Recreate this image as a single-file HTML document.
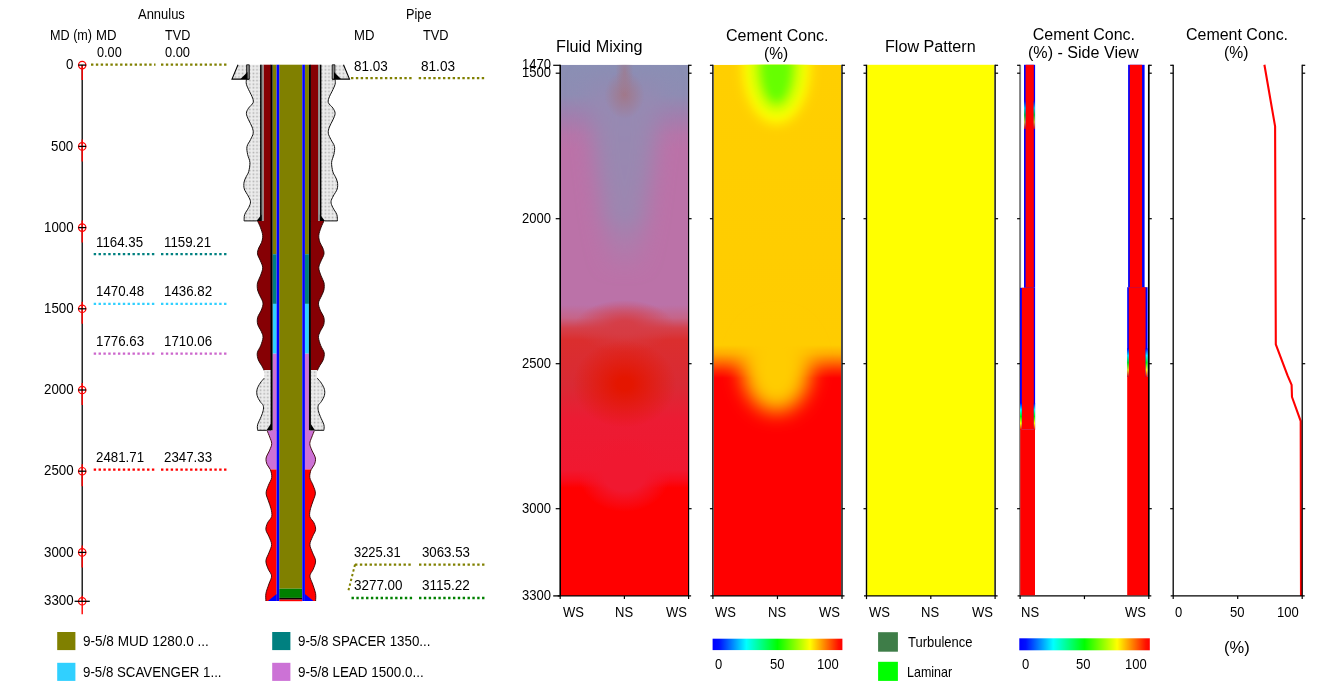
<!DOCTYPE html>
<html><head><meta charset="utf-8"><style>
html,body{margin:0;padding:0;background:#fff;}
body{width:1340px;height:691px;overflow:hidden;position:relative;font-family:"Liberation Sans",sans-serif;}
svg{position:absolute;left:0;top:0;}
#wrap{position:absolute;left:0;top:0;width:1340px;height:691px;filter:blur(0.35px);}
.t{position:absolute;white-space:pre;transform-origin:0 0;color:#000;}
</style></head><body>
<div id="wrap">
<svg width="1340" height="691" viewBox="0 0 1340 691">
<defs><pattern id="stip" x="0" y="0" width="3.6" height="3.6" patternUnits="userSpaceOnUse">
<rect width="3.6" height="3.6" fill="#ececec"/><rect x="0.6" y="0.6" width="1.6" height="1.6" fill="#b0b0b0"/></pattern>
<linearGradient id="t1base" x1="0" y1="64.8" x2="0" y2="595.9" gradientUnits="userSpaceOnUse"><stop offset="0.0000" stop-color="#8a8fb4"/><stop offset="0.0569" stop-color="#8e8cb3"/><stop offset="0.0945" stop-color="#a07fae"/><stop offset="0.1322" stop-color="#b575a9"/><stop offset="0.1604" stop-color="#bb72a8"/><stop offset="0.4523" stop-color="#bb72a8"/><stop offset="0.4767" stop-color="#c66488"/><stop offset="0.4956" stop-color="#d4414c"/><stop offset="0.5182" stop-color="#db2e2e"/><stop offset="0.6029" stop-color="#d92a34"/><stop offset="0.6688" stop-color="#ec1b33"/><stop offset="0.7629" stop-color="#f01830"/><stop offset="0.7818" stop-color="#f80c1c"/><stop offset="0.7968" stop-color="#ff0000"/><stop offset="1.0000" stop-color="#ff0000"/></linearGradient>
<linearGradient id="t1col" x1="0" y1="64.8" x2="0" y2="280" gradientUnits="userSpaceOnUse">
<stop offset="0" stop-color="#8f8ab3" stop-opacity="0"/>
<stop offset="0.15" stop-color="#958ab2" stop-opacity="1"/>
<stop offset="0.7" stop-color="#9c86b0" stop-opacity="1"/>
<stop offset="1" stop-color="#a882ae" stop-opacity="0"/>
</linearGradient>
<linearGradient id="t2base" x1="0" y1="64.8" x2="0" y2="595.9" gradientUnits="userSpaceOnUse"><stop offset="0.0000" stop-color="#ffcf00"/><stop offset="0.5276" stop-color="#ffcc00"/><stop offset="0.5445" stop-color="#ffaa00"/><stop offset="0.5596" stop-color="#ff7000"/><stop offset="0.5747" stop-color="#ff3000"/><stop offset="0.5897" stop-color="#ff0000"/><stop offset="1.0000" stop-color="#ff0000"/></linearGradient>
<linearGradient id="jet" x1="0" y1="0" x2="1" y2="0"><stop offset="0" stop-color="#0000ff"/><stop offset="0.05" stop-color="#0010ff"/><stop offset="0.26" stop-color="#00ffff"/><stop offset="0.5" stop-color="#00ff00"/><stop offset="0.75" stop-color="#ffff00"/><stop offset="0.97" stop-color="#ff1000"/><stop offset="1" stop-color="#ff0000"/></linearGradient>
<linearGradient id="vjet" x1="0" y1="0" x2="0" y2="1"><stop offset="0" stop-color="#0000ff"/><stop offset="0.25" stop-color="#00ffff"/><stop offset="0.5" stop-color="#00ff00"/><stop offset="0.75" stop-color="#ffff00"/><stop offset="1" stop-color="#ff0000"/></linearGradient>
<radialGradient id="r1top" cx="0.5" cy="0.5" r="0.5"><stop offset="0" stop-color="#a27686" stop-opacity="0.9"/><stop offset="0.0" stop-color="#a27686" stop-opacity="0.9"/><stop offset="1" stop-color="#a27686" stop-opacity="0"/></radialGradient><radialGradient id="r1onset" cx="0.5" cy="0.5" r="0.5"><stop offset="0" stop-color="#d63c44" stop-opacity="0.9"/><stop offset="0.2" stop-color="#d63c44" stop-opacity="0.9"/><stop offset="1" stop-color="#d63c44" stop-opacity="0"/></radialGradient><radialGradient id="r1spot" cx="0.5" cy="0.5" r="0.5"><stop offset="0" stop-color="#e41600" stop-opacity="1.0"/><stop offset="0.15" stop-color="#e41600" stop-opacity="1.0"/><stop offset="1" stop-color="#e41600" stop-opacity="0"/></radialGradient><radialGradient id="r1v" cx="0.5" cy="0.5" r="0.5"><stop offset="0" stop-color="#f01830" stop-opacity="1.0"/><stop offset="0.45" stop-color="#f01830" stop-opacity="1.0"/><stop offset="1" stop-color="#f01830" stop-opacity="0"/></radialGradient>
<filter id="b6" x="-50%" y="-50%" width="200%" height="200%"><feGaussianBlur stdDeviation="6"/></filter>
<filter id="b8" x="-50%" y="-50%" width="200%" height="200%"><feGaussianBlur stdDeviation="8"/></filter>
<filter id="b10x" x="-50%" y="-50%" width="200%" height="200%"><feGaussianBlur stdDeviation="11 5"/></filter>
<filter id="b10" x="-50%" y="-50%" width="200%" height="200%"><feGaussianBlur stdDeviation="10"/></filter>
<filter id="b4" x="-50%" y="-50%" width="200%" height="200%"><feGaussianBlur stdDeviation="4"/></filter>
<clipPath id="clip0"><rect x="561.0" y="64.8" width="127.00" height="531.10"/></clipPath>
<clipPath id="clip1"><rect x="713.6" y="64.8" width="127.70" height="531.10"/></clipPath>
<clipPath id="clip2"><rect x="867.2" y="64.8" width="127.20" height="531.10"/></clipPath>
<clipPath id="clip3"><rect x="1021.1" y="64.8" width="126.80" height="531.10"/></clipPath>
<clipPath id="clip4"><rect x="1173.8" y="64.8" width="127.80" height="531.10"/></clipPath>
</defs>
<line x1="82.2" y1="65.1" x2="82.2" y2="601.3" stroke="#000" stroke-width="1.3"/>
<line x1="82.2" y1="65.10" x2="82.2" y2="80.10" stroke="#ff0000" stroke-width="1.4"/>
<circle cx="82.2" cy="65.10" r="3.7" fill="none" stroke="#ff0000" stroke-width="1.2"/>
<line x1="78.3" y1="65.10" x2="86.2" y2="65.10" stroke="#000" stroke-width="1.3"/>
<line x1="82.2" y1="139.40" x2="82.2" y2="161.40" stroke="#ff0000" stroke-width="1.4"/>
<circle cx="82.2" cy="146.40" r="3.7" fill="none" stroke="#ff0000" stroke-width="1.2"/>
<line x1="78.3" y1="146.40" x2="86.2" y2="146.40" stroke="#000" stroke-width="1.3"/>
<line x1="82.2" y1="220.60" x2="82.2" y2="242.60" stroke="#ff0000" stroke-width="1.4"/>
<circle cx="82.2" cy="227.60" r="3.7" fill="none" stroke="#ff0000" stroke-width="1.2"/>
<line x1="78.3" y1="227.60" x2="86.2" y2="227.60" stroke="#000" stroke-width="1.3"/>
<line x1="82.2" y1="301.80" x2="82.2" y2="323.80" stroke="#ff0000" stroke-width="1.4"/>
<circle cx="82.2" cy="308.80" r="3.7" fill="none" stroke="#ff0000" stroke-width="1.2"/>
<line x1="78.3" y1="308.80" x2="86.2" y2="308.80" stroke="#000" stroke-width="1.3"/>
<line x1="82.2" y1="383.00" x2="82.2" y2="405.00" stroke="#ff0000" stroke-width="1.4"/>
<circle cx="82.2" cy="390.00" r="3.7" fill="none" stroke="#ff0000" stroke-width="1.2"/>
<line x1="78.3" y1="390.00" x2="86.2" y2="390.00" stroke="#000" stroke-width="1.3"/>
<line x1="82.2" y1="464.20" x2="82.2" y2="486.20" stroke="#ff0000" stroke-width="1.4"/>
<circle cx="82.2" cy="471.20" r="3.7" fill="none" stroke="#ff0000" stroke-width="1.2"/>
<line x1="78.3" y1="471.20" x2="86.2" y2="471.20" stroke="#000" stroke-width="1.3"/>
<line x1="82.2" y1="545.40" x2="82.2" y2="567.40" stroke="#ff0000" stroke-width="1.4"/>
<circle cx="82.2" cy="552.40" r="3.7" fill="none" stroke="#ff0000" stroke-width="1.2"/>
<line x1="78.3" y1="552.40" x2="86.2" y2="552.40" stroke="#000" stroke-width="1.3"/>
<line x1="82.2" y1="595.80" x2="82.2" y2="614.30" stroke="#ff0000" stroke-width="1.4"/>
<circle cx="82.2" cy="601.30" r="3.7" fill="none" stroke="#ff0000" stroke-width="1.2"/>
<line x1="74.6" y1="601.30" x2="89.8" y2="601.30" stroke="#000" stroke-width="1.3"/>
<line x1="91.00" y1="64.70" x2="155.50" y2="64.70" stroke="#808000" stroke-width="2.3" stroke-dasharray="2.4 2.45"/>
<line x1="161.00" y1="64.70" x2="228.00" y2="64.70" stroke="#808000" stroke-width="2.3" stroke-dasharray="2.4 2.45"/>
<line x1="93.70" y1="254.20" x2="155.50" y2="254.20" stroke="#008080" stroke-width="2.3" stroke-dasharray="2.4 2.45"/>
<line x1="161.00" y1="254.20" x2="228.00" y2="254.20" stroke="#008080" stroke-width="2.3" stroke-dasharray="2.4 2.45"/>
<line x1="93.70" y1="303.90" x2="155.50" y2="303.90" stroke="#30d0ff" stroke-width="2.3" stroke-dasharray="2.4 2.45"/>
<line x1="161.00" y1="303.90" x2="228.00" y2="303.90" stroke="#30d0ff" stroke-width="2.3" stroke-dasharray="2.4 2.45"/>
<line x1="93.70" y1="353.70" x2="155.50" y2="353.70" stroke="#cc66cc" stroke-width="2.3" stroke-dasharray="2.4 2.45"/>
<line x1="161.00" y1="353.70" x2="228.00" y2="353.70" stroke="#cc66cc" stroke-width="2.3" stroke-dasharray="2.4 2.45"/>
<line x1="93.70" y1="469.60" x2="155.50" y2="469.60" stroke="#ff0000" stroke-width="2.3" stroke-dasharray="2.4 2.45"/>
<line x1="161.00" y1="469.60" x2="228.00" y2="469.60" stroke="#ff0000" stroke-width="2.3" stroke-dasharray="2.4 2.45"/>
<line x1="351.00" y1="78.10" x2="413.20" y2="78.10" stroke="#808000" stroke-width="2.3" stroke-dasharray="2.4 2.45"/>
<line x1="418.70" y1="78.10" x2="486.00" y2="78.10" stroke="#808000" stroke-width="2.3" stroke-dasharray="2.4 2.45"/>
<line x1="355.00" y1="564.60" x2="412.40" y2="564.60" stroke="#808000" stroke-width="2.3" stroke-dasharray="2.4 2.45"/>
<line x1="419.00" y1="564.60" x2="485.50" y2="564.60" stroke="#808000" stroke-width="2.3" stroke-dasharray="2.4 2.45"/>
<line x1="355" y1="564.6" x2="348.5" y2="590.3" stroke="#808000" stroke-width="2" stroke-dasharray="2.4 2.45"/>
<line x1="351.50" y1="598.00" x2="412.40" y2="598.00" stroke="#008000" stroke-width="2.3" stroke-dasharray="2.4 2.45"/>
<line x1="419.00" y1="598.00" x2="485.50" y2="598.00" stroke="#008000" stroke-width="2.3" stroke-dasharray="2.4 2.45"/>
<path d="M246.40,79.30 C246.40,80.13 245.88,82.27 246.40,84.30 C246.92,86.33 248.55,89.42 249.50,91.50 C250.45,93.58 251.48,94.92 252.10,96.75 C252.72,98.58 253.80,100.59 253.20,102.50 C252.60,104.41 249.63,106.38 248.50,108.20 C247.37,110.02 246.40,111.48 246.40,113.40 C246.40,115.32 247.55,117.43 248.50,119.70 C249.45,121.97 251.32,124.75 252.10,127.00 C252.88,129.25 253.45,131.12 253.20,133.20 C252.95,135.28 251.63,137.28 250.60,139.50 C249.57,141.72 247.50,144.03 247.00,146.50 C246.50,148.97 247.12,151.65 247.60,154.30 C248.08,156.95 249.72,159.52 249.90,162.40 C250.08,165.28 249.28,169.28 248.70,171.60 C248.12,173.92 247.17,174.57 246.40,176.30 C245.63,178.03 244.45,179.88 244.10,182.00 C243.75,184.12 243.62,186.67 244.30,189.00 C244.98,191.33 247.17,193.87 248.20,196.00 C249.23,198.13 250.42,199.88 250.50,201.80 C250.58,203.72 249.67,205.38 248.70,207.50 C247.73,209.62 245.47,212.27 244.70,214.50 C243.93,216.73 244.20,219.83 244.10,220.90 L261.00,220.90 L261.00,64.80 L249.30,64.80 L249.30,79.30 Z" fill="url(#stip)"/>
<path d="M246.40,79.30 C246.40,80.13 245.88,82.27 246.40,84.30 C246.92,86.33 248.55,89.42 249.50,91.50 C250.45,93.58 251.48,94.92 252.10,96.75 C252.72,98.58 253.80,100.59 253.20,102.50 C252.60,104.41 249.63,106.38 248.50,108.20 C247.37,110.02 246.40,111.48 246.40,113.40 C246.40,115.32 247.55,117.43 248.50,119.70 C249.45,121.97 251.32,124.75 252.10,127.00 C252.88,129.25 253.45,131.12 253.20,133.20 C252.95,135.28 251.63,137.28 250.60,139.50 C249.57,141.72 247.50,144.03 247.00,146.50 C246.50,148.97 247.12,151.65 247.60,154.30 C248.08,156.95 249.72,159.52 249.90,162.40 C250.08,165.28 249.28,169.28 248.70,171.60 C248.12,173.92 247.17,174.57 246.40,176.30 C245.63,178.03 244.45,179.88 244.10,182.00 C243.75,184.12 243.62,186.67 244.30,189.00 C244.98,191.33 247.17,193.87 248.20,196.00 C249.23,198.13 250.42,199.88 250.50,201.80 C250.58,203.72 249.67,205.38 248.70,207.50 C247.73,209.62 245.47,212.27 244.70,214.50 C243.93,216.73 244.20,219.83 244.10,220.90 L256.80,220.9" fill="none" stroke="#111" stroke-width="1"/>
<path d="M335.10,79.30 C335.10,80.13 335.62,82.27 335.10,84.30 C334.58,86.33 332.95,89.42 332.00,91.50 C331.05,93.58 330.02,94.92 329.40,96.75 C328.78,98.58 327.70,100.59 328.30,102.50 C328.90,104.41 331.87,106.38 333.00,108.20 C334.13,110.02 335.10,111.48 335.10,113.40 C335.10,115.32 333.95,117.43 333.00,119.70 C332.05,121.97 330.18,124.75 329.40,127.00 C328.62,129.25 328.05,131.12 328.30,133.20 C328.55,135.28 329.87,137.28 330.90,139.50 C331.93,141.72 334.00,144.03 334.50,146.50 C335.00,148.97 334.38,151.65 333.90,154.30 C333.42,156.95 331.78,159.52 331.60,162.40 C331.42,165.28 332.22,169.28 332.80,171.60 C333.38,173.92 334.33,174.57 335.10,176.30 C335.87,178.03 337.05,179.88 337.40,182.00 C337.75,184.12 337.88,186.67 337.20,189.00 C336.52,191.33 334.33,193.87 333.30,196.00 C332.27,198.13 331.08,199.88 331.00,201.80 C330.92,203.72 331.83,205.38 332.80,207.50 C333.77,209.62 336.03,212.27 336.80,214.50 C337.57,216.73 337.30,219.83 337.40,220.90 L320.50,220.90 L320.50,64.80 L332.20,64.80 L332.20,79.30 Z" fill="url(#stip)"/>
<path d="M335.10,79.30 C335.10,80.13 335.62,82.27 335.10,84.30 C334.58,86.33 332.95,89.42 332.00,91.50 C331.05,93.58 330.02,94.92 329.40,96.75 C328.78,98.58 327.70,100.59 328.30,102.50 C328.90,104.41 331.87,106.38 333.00,108.20 C334.13,110.02 335.10,111.48 335.10,113.40 C335.10,115.32 333.95,117.43 333.00,119.70 C332.05,121.97 330.18,124.75 329.40,127.00 C328.62,129.25 328.05,131.12 328.30,133.20 C328.55,135.28 329.87,137.28 330.90,139.50 C331.93,141.72 334.00,144.03 334.50,146.50 C335.00,148.97 334.38,151.65 333.90,154.30 C333.42,156.95 331.78,159.52 331.60,162.40 C331.42,165.28 332.22,169.28 332.80,171.60 C333.38,173.92 334.33,174.57 335.10,176.30 C335.87,178.03 337.05,179.88 337.40,182.00 C337.75,184.12 337.88,186.67 337.20,189.00 C336.52,191.33 334.33,193.87 333.30,196.00 C332.27,198.13 331.08,199.88 331.00,201.80 C330.92,203.72 331.83,205.38 332.80,207.50 C333.77,209.62 336.03,212.27 336.80,214.50 C337.57,216.73 337.30,219.83 337.40,220.90 L324.70,220.9" fill="none" stroke="#111" stroke-width="1"/>
<path d="M257.50,220.90 C257.98,221.97 259.53,224.88 260.40,227.30 C261.27,229.72 262.50,232.90 262.70,235.40 C262.90,237.90 262.27,240.20 261.60,242.30 C260.93,244.40 259.38,246.07 258.70,248.00 C258.02,249.93 257.22,251.77 257.50,253.90 C257.78,256.03 259.53,258.48 260.40,260.80 C261.27,263.12 262.70,265.28 262.70,267.80 C262.70,270.32 261.27,273.40 260.40,275.90 C259.53,278.40 257.97,280.45 257.50,282.80 C257.03,285.15 257.18,287.82 257.60,290.00 C258.02,292.18 259.10,293.73 260.00,295.90 C260.90,298.07 262.78,300.63 263.00,303.00 C263.22,305.37 262.18,307.72 261.30,310.10 C260.42,312.48 258.30,314.92 257.70,317.30 C257.10,319.68 257.10,322.03 257.70,324.40 C258.30,326.77 260.42,329.33 261.30,331.50 C262.18,333.67 263.10,335.03 263.00,337.40 C262.90,339.77 261.65,343.13 260.70,345.70 C259.75,348.27 257.70,350.43 257.30,352.80 C256.90,355.17 257.55,357.73 258.30,359.90 C259.05,362.07 260.82,364.02 261.80,365.80 C262.78,367.58 263.80,369.80 264.20,370.60 L271.00,370.60 L271.00,220.90 Z" fill="#860004"/>
<path d="M257.50,220.90 C257.98,221.97 259.53,224.88 260.40,227.30 C261.27,229.72 262.50,232.90 262.70,235.40 C262.90,237.90 262.27,240.20 261.60,242.30 C260.93,244.40 259.38,246.07 258.70,248.00 C258.02,249.93 257.22,251.77 257.50,253.90 C257.78,256.03 259.53,258.48 260.40,260.80 C261.27,263.12 262.70,265.28 262.70,267.80 C262.70,270.32 261.27,273.40 260.40,275.90 C259.53,278.40 257.97,280.45 257.50,282.80 C257.03,285.15 257.18,287.82 257.60,290.00 C258.02,292.18 259.10,293.73 260.00,295.90 C260.90,298.07 262.78,300.63 263.00,303.00 C263.22,305.37 262.18,307.72 261.30,310.10 C260.42,312.48 258.30,314.92 257.70,317.30 C257.10,319.68 257.10,322.03 257.70,324.40 C258.30,326.77 260.42,329.33 261.30,331.50 C262.18,333.67 263.10,335.03 263.00,337.40 C262.90,339.77 261.65,343.13 260.70,345.70 C259.75,348.27 257.70,350.43 257.30,352.80 C256.90,355.17 257.55,357.73 258.30,359.90 C259.05,362.07 260.82,364.02 261.80,365.80 C262.78,367.58 263.80,369.80 264.20,370.60" fill="none" stroke="#200" stroke-width="0.9"/>
<path d="M324.00,220.90 C323.52,221.97 321.97,224.88 321.10,227.30 C320.23,229.72 319.00,232.90 318.80,235.40 C318.60,237.90 319.23,240.20 319.90,242.30 C320.57,244.40 322.12,246.07 322.80,248.00 C323.48,249.93 324.28,251.77 324.00,253.90 C323.72,256.03 321.97,258.48 321.10,260.80 C320.23,263.12 318.80,265.28 318.80,267.80 C318.80,270.32 320.23,273.40 321.10,275.90 C321.97,278.40 323.53,280.45 324.00,282.80 C324.47,285.15 324.32,287.82 323.90,290.00 C323.48,292.18 322.40,293.73 321.50,295.90 C320.60,298.07 318.72,300.63 318.50,303.00 C318.28,305.37 319.32,307.72 320.20,310.10 C321.08,312.48 323.20,314.92 323.80,317.30 C324.40,319.68 324.40,322.03 323.80,324.40 C323.20,326.77 321.08,329.33 320.20,331.50 C319.32,333.67 318.40,335.03 318.50,337.40 C318.60,339.77 319.85,343.13 320.80,345.70 C321.75,348.27 323.80,350.43 324.20,352.80 C324.60,355.17 323.95,357.73 323.20,359.90 C322.45,362.07 320.68,364.02 319.70,365.80 C318.72,367.58 317.70,369.80 317.30,370.60 L310.50,370.60 L310.50,220.90 Z" fill="#860004"/>
<path d="M324.00,220.90 C323.52,221.97 321.97,224.88 321.10,227.30 C320.23,229.72 319.00,232.90 318.80,235.40 C318.60,237.90 319.23,240.20 319.90,242.30 C320.57,244.40 322.12,246.07 322.80,248.00 C323.48,249.93 324.28,251.77 324.00,253.90 C323.72,256.03 321.97,258.48 321.10,260.80 C320.23,263.12 318.80,265.28 318.80,267.80 C318.80,270.32 320.23,273.40 321.10,275.90 C321.97,278.40 323.53,280.45 324.00,282.80 C324.47,285.15 324.32,287.82 323.90,290.00 C323.48,292.18 322.40,293.73 321.50,295.90 C320.60,298.07 318.72,300.63 318.50,303.00 C318.28,305.37 319.32,307.72 320.20,310.10 C321.08,312.48 323.20,314.92 323.80,317.30 C324.40,319.68 324.40,322.03 323.80,324.40 C323.20,326.77 321.08,329.33 320.20,331.50 C319.32,333.67 318.40,335.03 318.50,337.40 C318.60,339.77 319.85,343.13 320.80,345.70 C321.75,348.27 323.80,350.43 324.20,352.80 C324.60,355.17 323.95,357.73 323.20,359.90 C322.45,362.07 320.68,364.02 319.70,365.80 C318.72,367.58 317.70,369.80 317.30,370.60" fill="none" stroke="#200" stroke-width="0.9"/>
<path d="M264.20,370.00 C264.20,371.37 264.88,376.00 264.20,378.20 C263.52,380.40 261.28,381.35 260.10,383.20 C258.92,385.05 257.60,387.27 257.10,389.30 C256.60,391.33 256.60,393.37 257.10,395.40 C257.60,397.43 259.08,399.82 260.10,401.50 C261.12,403.18 262.68,403.98 263.20,405.50 C263.72,407.02 263.55,408.73 263.20,410.60 C262.85,412.47 262.03,414.33 261.10,416.70 C260.17,419.07 258.18,422.53 257.60,424.80 C257.02,427.07 257.60,429.38 257.60,430.30 L271.00,430.30 L271.00,370.00 Z" fill="url(#stip)"/>
<path d="M264.20,378.20 C263.52,379.03 261.28,381.35 260.10,383.20 C258.92,385.05 257.60,387.27 257.10,389.30 C256.60,391.33 256.60,393.37 257.10,395.40 C257.60,397.43 259.08,399.82 260.10,401.50 C261.12,403.18 262.68,403.98 263.20,405.50 C263.72,407.02 263.55,408.73 263.20,410.60 C262.85,412.47 262.03,414.33 261.10,416.70 C260.17,419.07 258.18,422.53 257.60,424.80 C257.02,427.07 257.60,429.38 257.60,430.30 L266.70,430.3" fill="none" stroke="#111" stroke-width="1"/>
<path d="M317.30,370.00 C317.30,371.37 316.62,376.00 317.30,378.20 C317.98,380.40 320.22,381.35 321.40,383.20 C322.58,385.05 323.90,387.27 324.40,389.30 C324.90,391.33 324.90,393.37 324.40,395.40 C323.90,397.43 322.42,399.82 321.40,401.50 C320.38,403.18 318.82,403.98 318.30,405.50 C317.78,407.02 317.95,408.73 318.30,410.60 C318.65,412.47 319.47,414.33 320.40,416.70 C321.33,419.07 323.32,422.53 323.90,424.80 C324.48,427.07 323.90,429.38 323.90,430.30 L310.50,430.30 L310.50,370.00 Z" fill="url(#stip)"/>
<path d="M317.30,378.20 C317.98,379.03 320.22,381.35 321.40,383.20 C322.58,385.05 323.90,387.27 324.40,389.30 C324.90,391.33 324.90,393.37 324.40,395.40 C323.90,397.43 322.42,399.82 321.40,401.50 C320.38,403.18 318.82,403.98 318.30,405.50 C317.78,407.02 317.95,408.73 318.30,410.60 C318.65,412.47 319.47,414.33 320.40,416.70 C321.33,419.07 323.32,422.53 323.90,424.80 C324.48,427.07 323.90,429.38 323.90,430.30 L314.80,430.3" fill="none" stroke="#111" stroke-width="1"/>
<path d="M267.10,430.60 C267.53,431.68 268.93,434.93 269.70,437.10 C270.47,439.27 271.70,441.43 271.70,443.60 C271.70,445.77 270.63,447.70 269.70,450.10 C268.77,452.50 266.53,455.60 266.10,458.00 C265.67,460.40 266.39,462.57 267.10,464.50 C267.81,466.43 269.80,468.75 270.34,469.60 L276.60,469.60 L276.60,430.30 Z" fill="#cc72d6"/>
<path d="M270.34,469.60 C270.35,469.62 270.17,468.38 270.40,469.70 C270.63,471.02 272.03,474.90 271.70,477.50 C271.37,480.10 269.33,482.70 268.40,485.30 C267.47,487.90 266.10,490.50 266.10,493.10 C266.10,495.70 267.58,498.30 268.40,500.90 C269.22,503.50 270.45,506.10 271.00,508.70 C271.55,511.30 272.28,514.13 271.70,516.50 C271.12,518.87 268.47,520.70 267.50,522.90 C266.53,525.10 265.67,527.43 265.90,529.70 C266.13,531.97 267.95,534.02 268.90,536.50 C269.85,538.98 271.60,541.88 271.60,544.60 C271.60,547.32 269.85,550.08 268.90,552.80 C267.95,555.52 266.02,558.18 265.90,560.90 C265.78,563.62 267.25,566.60 268.20,569.10 C269.15,571.60 271.48,573.42 271.60,575.90 C271.72,578.38 269.85,581.07 268.90,584.00 C267.95,586.93 266.40,590.67 265.90,593.50 C265.40,596.33 265.90,599.75 265.90,601.00 L276.60,601.00 L276.60,469.60 Z" fill="#ff0000"/>
<path d="M267.10,430.60 C267.53,431.68 268.93,434.93 269.70,437.10 C270.47,439.27 271.70,441.43 271.70,443.60 C271.70,445.77 270.63,447.70 269.70,450.10 C268.77,452.50 266.53,455.60 266.10,458.00 C265.67,460.40 266.38,462.55 267.10,464.50 C267.82,466.45 269.63,467.53 270.40,469.70 C271.17,471.87 272.03,474.90 271.70,477.50 C271.37,480.10 269.33,482.70 268.40,485.30 C267.47,487.90 266.10,490.50 266.10,493.10 C266.10,495.70 267.58,498.30 268.40,500.90 C269.22,503.50 270.45,506.10 271.00,508.70 C271.55,511.30 272.28,514.13 271.70,516.50 C271.12,518.87 268.47,520.70 267.50,522.90 C266.53,525.10 265.67,527.43 265.90,529.70 C266.13,531.97 267.95,534.02 268.90,536.50 C269.85,538.98 271.60,541.88 271.60,544.60 C271.60,547.32 269.85,550.08 268.90,552.80 C267.95,555.52 266.02,558.18 265.90,560.90 C265.78,563.62 267.25,566.60 268.20,569.10 C269.15,571.60 271.48,573.42 271.60,575.90 C271.72,578.38 269.85,581.07 268.90,584.00 C267.95,586.93 266.40,590.67 265.90,593.50 C265.40,596.33 265.90,599.75 265.90,601.00" fill="none" stroke="#300" stroke-width="0.9"/>
<path d="M314.40,430.60 C313.97,431.68 312.57,434.93 311.80,437.10 C311.03,439.27 309.80,441.43 309.80,443.60 C309.80,445.77 310.87,447.70 311.80,450.10 C312.73,452.50 314.97,455.60 315.40,458.00 C315.83,460.40 315.11,462.57 314.40,464.50 C313.69,466.43 311.70,468.75 311.16,469.60 L304.90,469.60 L304.90,430.30 Z" fill="#cc72d6"/>
<path d="M311.16,469.60 C311.15,469.62 311.33,468.38 311.10,469.70 C310.87,471.02 309.47,474.90 309.80,477.50 C310.13,480.10 312.17,482.70 313.10,485.30 C314.03,487.90 315.40,490.50 315.40,493.10 C315.40,495.70 313.92,498.30 313.10,500.90 C312.28,503.50 311.05,506.10 310.50,508.70 C309.95,511.30 309.22,514.13 309.80,516.50 C310.38,518.87 313.03,520.70 314.00,522.90 C314.97,525.10 315.83,527.43 315.60,529.70 C315.37,531.97 313.55,534.02 312.60,536.50 C311.65,538.98 309.90,541.88 309.90,544.60 C309.90,547.32 311.65,550.08 312.60,552.80 C313.55,555.52 315.48,558.18 315.60,560.90 C315.72,563.62 314.25,566.60 313.30,569.10 C312.35,571.60 310.02,573.42 309.90,575.90 C309.78,578.38 311.65,581.07 312.60,584.00 C313.55,586.93 315.10,590.67 315.60,593.50 C316.10,596.33 315.60,599.75 315.60,601.00 L304.90,601.00 L304.90,469.60 Z" fill="#ff0000"/>
<path d="M314.40,430.60 C313.97,431.68 312.57,434.93 311.80,437.10 C311.03,439.27 309.80,441.43 309.80,443.60 C309.80,445.77 310.87,447.70 311.80,450.10 C312.73,452.50 314.97,455.60 315.40,458.00 C315.83,460.40 315.12,462.55 314.40,464.50 C313.68,466.45 311.87,467.53 311.10,469.70 C310.33,471.87 309.47,474.90 309.80,477.50 C310.13,480.10 312.17,482.70 313.10,485.30 C314.03,487.90 315.40,490.50 315.40,493.10 C315.40,495.70 313.92,498.30 313.10,500.90 C312.28,503.50 311.05,506.10 310.50,508.70 C309.95,511.30 309.22,514.13 309.80,516.50 C310.38,518.87 313.03,520.70 314.00,522.90 C314.97,525.10 315.83,527.43 315.60,529.70 C315.37,531.97 313.55,534.02 312.60,536.50 C311.65,538.98 309.90,541.88 309.90,544.60 C309.90,547.32 311.65,550.08 312.60,552.80 C313.55,555.52 315.48,558.18 315.60,560.90 C315.72,563.62 314.25,566.60 313.30,569.10 C312.35,571.60 310.02,573.42 309.90,575.90 C309.78,578.38 311.65,581.07 312.60,584.00 C313.55,586.93 315.10,590.67 315.60,593.50 C316.10,596.33 315.60,599.75 315.60,601.00" fill="none" stroke="#300" stroke-width="0.9"/>
<rect x="263.50" y="64.70" width="7.50" height="157.10" fill="#860004"/><rect x="310.50" y="64.70" width="7.50" height="157.10" fill="#860004"/>
<rect x="260.10" y="64.70" width="1.70" height="156.20" fill="#000"/><rect x="319.70" y="64.70" width="1.70" height="156.20" fill="#000"/>
<rect x="261.80" y="64.70" width="1.70" height="156.20" fill="#8a8a8a"/><rect x="318.00" y="64.70" width="1.70" height="156.20" fill="#8a8a8a"/>
<rect x="272.60" y="64.70" width="4.00" height="189.50" fill="#808000"/><rect x="304.90" y="64.70" width="4.00" height="189.50" fill="#808000"/>
<rect x="272.60" y="254.20" width="4.00" height="49.70" fill="#008080"/><rect x="304.90" y="254.20" width="4.00" height="49.70" fill="#008080"/>
<rect x="272.60" y="303.90" width="4.00" height="49.80" fill="#30d0ff"/><rect x="304.90" y="303.90" width="4.00" height="49.80" fill="#30d0ff"/>
<rect x="272.60" y="353.70" width="4.00" height="77.30" fill="#cc72d6"/><rect x="304.90" y="353.70" width="4.00" height="77.30" fill="#cc72d6"/>
<rect x="270.60" y="64.70" width="2.00" height="365.60" fill="#000"/><rect x="308.90" y="64.70" width="2.00" height="365.60" fill="#000"/>
<polygon points="256.50,220.90 261.60,220.90 261.60,214.50" fill="#000"/>
<polygon points="266.40,430.50 271.00,430.50 271.00,423.50" fill="#000"/>
<polygon points="268.00,601.00 276.60,601.00 276.60,594.00" fill="#0000ff"/>
<polygon points="325.00,220.90 319.90,220.90 319.90,214.50" fill="#000"/>
<polygon points="315.10,430.50 310.50,430.50 310.50,423.50" fill="#000"/>
<polygon points="313.50,601.00 304.90,601.00 304.90,594.00" fill="#0000ff"/>
<rect x="279.2" y="64.7" width="23.10" height="524.00" fill="#808000"/>
<rect x="279.2" y="588.7" width="23.10" height="9.2" fill="#008000"/>
<rect x="279.2" y="597.9" width="23.10" height="1.8" fill="#100"/>
<rect x="279.2" y="599.7" width="23.10" height="1.5" fill="#ff0000"/>
<rect x="276.60" y="64.70" width="2.60" height="536.30" fill="#0000ff"/><rect x="302.30" y="64.70" width="2.60" height="536.30" fill="#0000ff"/>
<polygon points="238.00,64.80 249.30,64.80 249.30,79.10 232.00,79.10" fill="url(#stip)"/>
<polyline points="238.00,64.80 232.00,79.10 249.30,79.10" fill="none" stroke="#000" stroke-width="1.1"/>
<polygon points="246.60,64.80 249.30,64.80 249.30,79.10 246.60,79.10" fill="#8a8a8a" stroke="#000" stroke-width="0.8"/>
<polygon points="240.50,79.10 247.50,79.10 247.50,72.00" fill="#000"/>
<polygon points="343.50,64.80 332.20,64.80 332.20,79.10 349.50,79.10" fill="url(#stip)"/>
<polyline points="343.50,64.80 349.50,79.10 332.20,79.10" fill="none" stroke="#000" stroke-width="1.1"/>
<polygon points="334.90,64.80 332.20,64.80 332.20,79.10 334.90,79.10" fill="#8a8a8a" stroke="#000" stroke-width="0.8"/>
<polygon points="341.00,79.10 334.00,79.10 334.00,72.00" fill="#000"/>
<rect x="57.2" y="632.0" width="18.2" height="18.1" fill="#808000"/>
<rect x="57.2" y="662.8" width="18.2" height="18.1" fill="#30d0ff"/>
<rect x="272.2" y="632.0" width="18.2" height="18.1" fill="#008080"/>
<rect x="272.2" y="662.8" width="18.2" height="18.1" fill="#cc72d6"/>
<g clip-path="url(#clip0)">
<rect x="561.0" y="64.8" width="127.0" height="531.1" fill="url(#t1base)"/>
<polygon points="588.5,64.8 660.5,64.8 654.5,150 637.5,282 611.5,282 594.5,150" fill="url(#t1col)" filter="url(#b10x)"/>
<ellipse cx="624.5" cy="95" rx="20" ry="24" fill="url(#r1top)"/>
<ellipse cx="624.5" cy="72" rx="9" ry="26" fill="url(#r1top)" opacity="0.7"/>
<ellipse cx="624.5" cy="326" rx="50" ry="26" fill="url(#r1onset)"/>
<ellipse cx="624.5" cy="384" rx="52" ry="44" fill="url(#r1spot)"/>
<ellipse cx="624.5" cy="474" rx="46" ry="38" fill="url(#r1v)"/>
</g>
<g clip-path="url(#clip1)">
<rect x="713.6" y="64.8" width="127.70" height="531.1" fill="url(#t2base)"/>
<ellipse cx="776.5" cy="368" rx="34" ry="44" fill="#ffcc00" filter="url(#b10)"/>
<ellipse cx="776.5" cy="66" rx="34" ry="58" fill="#ffff00" filter="url(#b6)"/>
<ellipse cx="776.5" cy="66" rx="24" ry="46" fill="#b8ff00" filter="url(#b6)"/>
<ellipse cx="776.5" cy="66" rx="15" ry="36" fill="#66ff00" filter="url(#b4)"/>
</g>
<rect x="867.2" y="64.8" width="127.20" height="531.10" fill="#ffff00"/>
<polyline points="1264.4,64.8 1275.1,126.4 1275.8,344.3 1287.6,375.7 1291.6,384.8 1292.0,397.0 1300.7,421.2 1301.0,595.9" fill="none" stroke="#ff0000" stroke-width="2.1" stroke-linejoin="round"/>
<line x1="560.2" y1="64.8" x2="560.2" y2="595.9" stroke="#000" stroke-width="1.6"/>
<line x1="688.6" y1="64.8" x2="688.6" y2="595.9" stroke="#000" stroke-width="1.2"/>
<line x1="553.20" y1="595.9" x2="560.20" y2="595.9" stroke="#000" stroke-width="1.3"/>
<line x1="557.70" y1="595.9" x2="691.10" y2="595.9" stroke="#000" stroke-width="1.3"/>
<line x1="560.20" y1="595.9" x2="560.20" y2="599.10" stroke="#000" stroke-width="1.2"/>
<line x1="624.40" y1="595.9" x2="624.40" y2="599.10" stroke="#000" stroke-width="1.2"/>
<line x1="688.60" y1="595.9" x2="688.60" y2="599.10" stroke="#000" stroke-width="1.2"/>
<line x1="553.20" y1="65.3" x2="560.20" y2="65.3" stroke="#000" stroke-width="1.2"/>
<line x1="688.60" y1="65.3" x2="691.60" y2="65.3" stroke="#000" stroke-width="1.2"/>
<line x1="555.70" y1="73.2" x2="560.20" y2="73.2" stroke="#000" stroke-width="1.2"/>
<line x1="688.60" y1="73.2" x2="691.60" y2="73.2" stroke="#000" stroke-width="1.2"/>
<line x1="555.70" y1="218.7" x2="560.20" y2="218.7" stroke="#000" stroke-width="1.2"/>
<line x1="688.60" y1="218.7" x2="691.60" y2="218.7" stroke="#000" stroke-width="1.2"/>
<line x1="555.70" y1="363.7" x2="560.20" y2="363.7" stroke="#000" stroke-width="1.2"/>
<line x1="688.60" y1="363.7" x2="691.60" y2="363.7" stroke="#000" stroke-width="1.2"/>
<line x1="555.70" y1="508.7" x2="560.20" y2="508.7" stroke="#000" stroke-width="1.2"/>
<line x1="688.60" y1="508.7" x2="691.60" y2="508.7" stroke="#000" stroke-width="1.2"/>
<line x1="712.9" y1="64.8" x2="712.9" y2="595.9" stroke="#000" stroke-width="1.4"/>
<line x1="842.0" y1="64.8" x2="842.0" y2="595.9" stroke="#000" stroke-width="1.4"/>
<line x1="710.40" y1="595.9" x2="844.50" y2="595.9" stroke="#000" stroke-width="1.3"/>
<line x1="712.90" y1="595.9" x2="712.90" y2="599.10" stroke="#000" stroke-width="1.2"/>
<line x1="777.45" y1="595.9" x2="777.45" y2="599.10" stroke="#000" stroke-width="1.2"/>
<line x1="842.00" y1="595.9" x2="842.00" y2="599.10" stroke="#000" stroke-width="1.2"/>
<line x1="709.90" y1="65.3" x2="712.90" y2="65.3" stroke="#000" stroke-width="1.2"/>
<line x1="842.00" y1="65.3" x2="845.00" y2="65.3" stroke="#000" stroke-width="1.2"/>
<line x1="709.90" y1="73.2" x2="712.90" y2="73.2" stroke="#000" stroke-width="1.2"/>
<line x1="842.00" y1="73.2" x2="845.00" y2="73.2" stroke="#000" stroke-width="1.2"/>
<line x1="709.90" y1="218.7" x2="712.90" y2="218.7" stroke="#000" stroke-width="1.2"/>
<line x1="842.00" y1="218.7" x2="845.00" y2="218.7" stroke="#000" stroke-width="1.2"/>
<line x1="709.90" y1="363.7" x2="712.90" y2="363.7" stroke="#000" stroke-width="1.2"/>
<line x1="842.00" y1="363.7" x2="845.00" y2="363.7" stroke="#000" stroke-width="1.2"/>
<line x1="709.90" y1="508.7" x2="712.90" y2="508.7" stroke="#000" stroke-width="1.2"/>
<line x1="842.00" y1="508.7" x2="845.00" y2="508.7" stroke="#000" stroke-width="1.2"/>
<line x1="866.5" y1="64.8" x2="866.5" y2="595.9" stroke="#000" stroke-width="1.4"/>
<line x1="995.1" y1="64.8" x2="995.1" y2="595.9" stroke="#000" stroke-width="1.4"/>
<line x1="864.00" y1="595.9" x2="997.60" y2="595.9" stroke="#000" stroke-width="1.3"/>
<line x1="866.50" y1="595.9" x2="866.50" y2="599.10" stroke="#000" stroke-width="1.2"/>
<line x1="930.80" y1="595.9" x2="930.80" y2="599.10" stroke="#000" stroke-width="1.2"/>
<line x1="995.10" y1="595.9" x2="995.10" y2="599.10" stroke="#000" stroke-width="1.2"/>
<line x1="863.50" y1="65.3" x2="866.50" y2="65.3" stroke="#000" stroke-width="1.2"/>
<line x1="995.10" y1="65.3" x2="998.10" y2="65.3" stroke="#000" stroke-width="1.2"/>
<line x1="863.50" y1="73.2" x2="866.50" y2="73.2" stroke="#000" stroke-width="1.2"/>
<line x1="995.10" y1="73.2" x2="998.10" y2="73.2" stroke="#000" stroke-width="1.2"/>
<line x1="863.50" y1="218.7" x2="866.50" y2="218.7" stroke="#000" stroke-width="1.2"/>
<line x1="995.10" y1="218.7" x2="998.10" y2="218.7" stroke="#000" stroke-width="1.2"/>
<line x1="863.50" y1="363.7" x2="866.50" y2="363.7" stroke="#000" stroke-width="1.2"/>
<line x1="995.10" y1="363.7" x2="998.10" y2="363.7" stroke="#000" stroke-width="1.2"/>
<line x1="863.50" y1="508.7" x2="866.50" y2="508.7" stroke="#000" stroke-width="1.2"/>
<line x1="995.10" y1="508.7" x2="998.10" y2="508.7" stroke="#000" stroke-width="1.2"/>
<line x1="1020.1" y1="64.8" x2="1020.1" y2="595.9" stroke="#808080" stroke-width="2.0"/>
<line x1="1148.8" y1="64.8" x2="1148.8" y2="595.9" stroke="#000" stroke-width="1.7"/>
<line x1="1017.60" y1="595.9" x2="1151.30" y2="595.9" stroke="#000" stroke-width="1.3"/>
<line x1="1020.10" y1="595.9" x2="1020.10" y2="599.10" stroke="#000" stroke-width="1.2"/>
<line x1="1084.45" y1="595.9" x2="1084.45" y2="599.10" stroke="#000" stroke-width="1.2"/>
<line x1="1148.80" y1="595.9" x2="1148.80" y2="599.10" stroke="#000" stroke-width="1.2"/>
<line x1="1017.10" y1="65.3" x2="1020.10" y2="65.3" stroke="#000" stroke-width="1.2"/>
<line x1="1148.80" y1="65.3" x2="1151.80" y2="65.3" stroke="#000" stroke-width="1.2"/>
<line x1="1017.10" y1="73.2" x2="1020.10" y2="73.2" stroke="#000" stroke-width="1.2"/>
<line x1="1148.80" y1="73.2" x2="1151.80" y2="73.2" stroke="#000" stroke-width="1.2"/>
<line x1="1017.10" y1="218.7" x2="1020.10" y2="218.7" stroke="#000" stroke-width="1.2"/>
<line x1="1148.80" y1="218.7" x2="1151.80" y2="218.7" stroke="#000" stroke-width="1.2"/>
<line x1="1017.10" y1="363.7" x2="1020.10" y2="363.7" stroke="#000" stroke-width="1.2"/>
<line x1="1148.80" y1="363.7" x2="1151.80" y2="363.7" stroke="#000" stroke-width="1.2"/>
<line x1="1017.10" y1="508.7" x2="1020.10" y2="508.7" stroke="#000" stroke-width="1.2"/>
<line x1="1148.80" y1="508.7" x2="1151.80" y2="508.7" stroke="#000" stroke-width="1.2"/>
<line x1="1173.2" y1="64.8" x2="1173.2" y2="595.9" stroke="#000" stroke-width="1.3"/>
<line x1="1302.2" y1="64.8" x2="1302.2" y2="595.9" stroke="#000" stroke-width="1.3"/>
<line x1="1170.70" y1="595.9" x2="1304.70" y2="595.9" stroke="#000" stroke-width="1.3"/>
<line x1="1173.20" y1="595.9" x2="1173.20" y2="599.10" stroke="#000" stroke-width="1.2"/>
<line x1="1237.70" y1="595.9" x2="1237.70" y2="599.10" stroke="#000" stroke-width="1.2"/>
<line x1="1302.20" y1="595.9" x2="1302.20" y2="599.10" stroke="#000" stroke-width="1.2"/>
<line x1="1170.20" y1="65.3" x2="1173.20" y2="65.3" stroke="#000" stroke-width="1.2"/>
<line x1="1302.20" y1="65.3" x2="1305.20" y2="65.3" stroke="#000" stroke-width="1.2"/>
<line x1="1170.20" y1="73.2" x2="1173.20" y2="73.2" stroke="#000" stroke-width="1.2"/>
<line x1="1302.20" y1="73.2" x2="1305.20" y2="73.2" stroke="#000" stroke-width="1.2"/>
<line x1="1170.20" y1="218.7" x2="1173.20" y2="218.7" stroke="#000" stroke-width="1.2"/>
<line x1="1302.20" y1="218.7" x2="1305.20" y2="218.7" stroke="#000" stroke-width="1.2"/>
<line x1="1170.20" y1="363.7" x2="1173.20" y2="363.7" stroke="#000" stroke-width="1.2"/>
<line x1="1302.20" y1="363.7" x2="1305.20" y2="363.7" stroke="#000" stroke-width="1.2"/>
<line x1="1170.20" y1="508.7" x2="1173.20" y2="508.7" stroke="#000" stroke-width="1.2"/>
<line x1="1302.20" y1="508.7" x2="1305.20" y2="508.7" stroke="#000" stroke-width="1.2"/>
<rect x="1024.00" y="64.80" width="11.10" height="223.00" fill="#0000ff"/>
<rect x="1025.60" y="64.80" width="8.20" height="223.00" fill="#ff0000"/>
<rect x="1024.0" y="101" width="1.6" height="28" fill="url(#vjet)" opacity="0.75"/>
<rect x="1033.6" y="101" width="1.4" height="28" fill="url(#vjet)" opacity="0.75"/>
<rect x="1020.00" y="287.80" width="15.10" height="141.70" fill="#0000ff"/>
<rect x="1021.80" y="287.80" width="12.00" height="141.70" fill="#ff0000"/>
<rect x="1020.0" y="403" width="1.8" height="27" fill="url(#vjet)"/>
<rect x="1033.8" y="403" width="1.3" height="27" fill="url(#vjet)"/>
<rect x="1020.30" y="429.50" width="14.70" height="165.75" fill="#ff0000"/>
<rect x="1128.10" y="64.80" width="16.50" height="222.40" fill="#0000ff"/>
<rect x="1129.80" y="64.80" width="12.30" height="222.40" fill="#ff0000"/>
<rect x="1127.20" y="287.20" width="20.40" height="89.80" fill="#0000ff"/>
<rect x="1128.80" y="287.20" width="16.80" height="89.80" fill="#ff0000"/>
<rect x="1127.2" y="348.4" width="1.6" height="28.6" fill="url(#vjet)"/>
<rect x="1145.6" y="348.4" width="2.0" height="28.6" fill="url(#vjet)"/>
<rect x="1127.20" y="377.00" width="20.80" height="218.25" fill="#ff0000"/>
<rect x="712.6" y="638.7" width="129.8" height="11.4" fill="url(#jet)"/>
<rect x="1019.3" y="638.3" width="130.5" height="12.0" fill="url(#jet)"/>
<rect x="878.1" y="632.2" width="19.8" height="19.5" fill="#3e7d48"/>
<rect x="878.1" y="661.8" width="19.8" height="19.1" fill="#00ff00"/>
</svg>
<div class="t" style="left:138.40px;top:6.73px;font-size:14.5px;line-height:14.5px;transform:scaleX(0.8942);color:#000">Annulus</div>
<div class="t" style="left:405.52px;top:6.83px;font-size:14.5px;line-height:14.5px;transform:scaleX(0.8786);color:#000">Pipe</div>
<div class="t" style="left:49.73px;top:27.73px;font-size:14.5px;line-height:14.5px;transform:scaleX(0.8702);color:#000">MD (m)</div>
<div class="t" style="left:95.99px;top:27.73px;font-size:14.5px;line-height:14.5px;transform:scaleX(0.9095);color:#000">MD</div>
<div class="t" style="left:165.20px;top:27.73px;font-size:14.5px;line-height:14.5px;transform:scaleX(0.8714);color:#000">TVD</div>
<div class="t" style="left:353.90px;top:27.73px;font-size:14.5px;line-height:14.5px;transform:scaleX(0.9048);color:#000">MD</div>
<div class="t" style="left:423.00px;top:27.73px;font-size:14.5px;line-height:14.5px;transform:scaleX(0.8821);color:#000">TVD</div>
<div class="t" style="left:97.30px;top:45.03px;font-size:14.5px;line-height:14.5px;transform:scaleX(0.8750);color:#000">0.00</div>
<div class="t" style="left:164.80px;top:45.03px;font-size:14.5px;line-height:14.5px;transform:scaleX(0.8857);color:#000">0.00</div>
<div class="t" style="left:353.87px;top:58.53px;font-size:14.5px;line-height:14.5px;transform:scaleX(0.9314);color:#000">81.03</div>
<div class="t" style="left:421.26px;top:58.53px;font-size:14.5px;line-height:14.5px;transform:scaleX(0.9371);color:#000">81.03</div>
<div class="t" style="left:95.88px;top:234.53px;font-size:14.5px;line-height:14.5px;transform:scaleX(0.9172);color:#000">1164.35</div>
<div class="t" style="left:163.88px;top:234.53px;font-size:14.5px;line-height:14.5px;transform:scaleX(0.9172);color:#000">1159.21</div>
<div class="t" style="left:95.88px;top:284.23px;font-size:14.5px;line-height:14.5px;transform:scaleX(0.9172);color:#000">1470.48</div>
<div class="t" style="left:163.88px;top:284.23px;font-size:14.5px;line-height:14.5px;transform:scaleX(0.9172);color:#000">1436.82</div>
<div class="t" style="left:95.88px;top:334.03px;font-size:14.5px;line-height:14.5px;transform:scaleX(0.9172);color:#000">1776.63</div>
<div class="t" style="left:163.88px;top:334.03px;font-size:14.5px;line-height:14.5px;transform:scaleX(0.9172);color:#000">1710.06</div>
<div class="t" style="left:95.88px;top:449.93px;font-size:14.5px;line-height:14.5px;transform:scaleX(0.9172);color:#000">2481.71</div>
<div class="t" style="left:163.88px;top:449.93px;font-size:14.5px;line-height:14.5px;transform:scaleX(0.9172);color:#000">2347.33</div>
<div class="t" style="left:354.11px;top:544.63px;font-size:14.5px;line-height:14.5px;transform:scaleX(0.8902);color:#000">3225.31</div>
<div class="t" style="left:421.59px;top:544.63px;font-size:14.5px;line-height:14.5px;transform:scaleX(0.9137);color:#000">3063.53</div>
<div class="t" style="left:354.07px;top:578.03px;font-size:14.5px;line-height:14.5px;transform:scaleX(0.9255);color:#000">3277.00</div>
<div class="t" style="left:421.57px;top:578.03px;font-size:14.5px;line-height:14.5px;transform:scaleX(0.9320);color:#000">3115.22</div>
<div class="t" style="left:65.66px;top:57.23px;font-size:14.5px;line-height:14.5px;transform:scaleX(0.9172);color:#000">0</div>
<div class="t" style="left:50.99px;top:138.53px;font-size:14.5px;line-height:14.5px;transform:scaleX(0.9172);color:#000">500</div>
<div class="t" style="left:43.65px;top:219.73px;font-size:14.5px;line-height:14.5px;transform:scaleX(0.9172);color:#000">1000</div>
<div class="t" style="left:43.65px;top:300.93px;font-size:14.5px;line-height:14.5px;transform:scaleX(0.9172);color:#000">1500</div>
<div class="t" style="left:43.65px;top:382.13px;font-size:14.5px;line-height:14.5px;transform:scaleX(0.9172);color:#000">2000</div>
<div class="t" style="left:43.65px;top:463.33px;font-size:14.5px;line-height:14.5px;transform:scaleX(0.9172);color:#000">2500</div>
<div class="t" style="left:43.65px;top:544.53px;font-size:14.5px;line-height:14.5px;transform:scaleX(0.9172);color:#000">3000</div>
<div class="t" style="left:43.65px;top:593.43px;font-size:14.5px;line-height:14.5px;transform:scaleX(0.9172);color:#000">3300</div>
<div class="t" style="left:82.67px;top:634.33px;font-size:14.5px;line-height:14.5px;transform:scaleX(0.9348);color:#000">9-5/8 MUD 1280.0 ...</div>
<div class="t" style="left:82.68px;top:665.23px;font-size:14.5px;line-height:14.5px;transform:scaleX(0.9161);color:#000">9-5/8 SCAVENGER 1...</div>
<div class="t" style="left:297.68px;top:634.33px;font-size:14.5px;line-height:14.5px;transform:scaleX(0.9197);color:#000">9-5/8 SPACER 1350...</div>
<div class="t" style="left:297.67px;top:665.23px;font-size:14.5px;line-height:14.5px;transform:scaleX(0.9278);color:#000">9-5/8 LEAD 1500.0...</div>
<div class="t" style="left:555.69px;top:38.86px;font-size:16px;line-height:16px;transform:scaleX(1.0131);color:#000">Fluid Mixing</div>
<div class="t" style="left:725.70px;top:27.56px;font-size:16px;line-height:16px;transform:scaleX(1.0030);color:#000">Cement Conc.</div>
<div class="t" style="left:763.83px;top:45.96px;font-size:16px;line-height:16px;transform:scaleX(0.9696);color:#000">(%)</div>
<div class="t" style="left:884.79px;top:38.66px;font-size:16px;line-height:16px;transform:scaleX(1.0091);color:#000">Flow Pattern</div>
<div class="t" style="left:1032.80px;top:27.26px;font-size:16px;line-height:16px;transform:scaleX(1.0000);color:#000">Cement Conc.</div>
<div class="t" style="left:1027.69px;top:45.46px;font-size:16px;line-height:16px;transform:scaleX(1.0055);color:#000">(%) - Side View</div>
<div class="t" style="left:1186.00px;top:27.26px;font-size:16px;line-height:16px;transform:scaleX(0.9980);color:#000">Cement Conc.</div>
<div class="t" style="left:1224.02px;top:45.46px;font-size:16px;line-height:16px;transform:scaleX(0.9783);color:#000">(%)</div>
<div class="t" style="left:521.86px;top:55.90px;font-size:15px;line-height:15px;transform:scaleX(0.8680);color:#000">1470</div>
<div class="t" style="left:521.86px;top:63.50px;font-size:15px;line-height:15px;transform:scaleX(0.8680);color:#000">1500</div>
<div class="t" style="left:521.86px;top:210.10px;font-size:15px;line-height:15px;transform:scaleX(0.8680);color:#000">2000</div>
<div class="t" style="left:521.86px;top:355.20px;font-size:15px;line-height:15px;transform:scaleX(0.8680);color:#000">2500</div>
<div class="t" style="left:521.86px;top:500.30px;font-size:15px;line-height:15px;transform:scaleX(0.8680);color:#000">3000</div>
<div class="t" style="left:521.86px;top:587.30px;font-size:15px;line-height:15px;transform:scaleX(0.8680);color:#000">3300</div>
<div class="t" style="left:562.50px;top:603.60px;font-size:15px;line-height:15px;transform:scaleX(0.8680);color:#000">WS</div>
<div class="t" style="left:614.89px;top:603.60px;font-size:15px;line-height:15px;transform:scaleX(0.8680);color:#000">NS</div>
<div class="t" style="left:665.67px;top:603.60px;font-size:15px;line-height:15px;transform:scaleX(0.8680);color:#000">WS</div>
<div class="t" style="left:715.10px;top:603.60px;font-size:15px;line-height:15px;transform:scaleX(0.8680);color:#000">WS</div>
<div class="t" style="left:767.84px;top:603.60px;font-size:15px;line-height:15px;transform:scaleX(0.8680);color:#000">NS</div>
<div class="t" style="left:818.97px;top:603.60px;font-size:15px;line-height:15px;transform:scaleX(0.8680);color:#000">WS</div>
<div class="t" style="left:868.70px;top:603.60px;font-size:15px;line-height:15px;transform:scaleX(0.8680);color:#000">WS</div>
<div class="t" style="left:921.14px;top:603.60px;font-size:15px;line-height:15px;transform:scaleX(0.8680);color:#000">NS</div>
<div class="t" style="left:971.97px;top:603.60px;font-size:15px;line-height:15px;transform:scaleX(0.8680);color:#000">WS</div>
<div class="t" style="left:1020.93px;top:603.60px;font-size:15px;line-height:15px;transform:scaleX(0.8680);color:#000">NS</div>
<div class="t" style="left:1125.37px;top:603.60px;font-size:15px;line-height:15px;transform:scaleX(0.8680);color:#000">WS</div>
<div class="t" style="left:1175.23px;top:603.60px;font-size:15px;line-height:15px;transform:scaleX(0.8680);color:#000">0</div>
<div class="t" style="left:1229.62px;top:603.60px;font-size:15px;line-height:15px;transform:scaleX(0.8680);color:#000">50</div>
<div class="t" style="left:1277.40px;top:603.60px;font-size:15px;line-height:15px;transform:scaleX(0.8680);color:#000">100</div>
<div class="t" style="left:714.83px;top:656.30px;font-size:15px;line-height:15px;transform:scaleX(0.8680);color:#000">0</div>
<div class="t" style="left:769.62px;top:656.30px;font-size:15px;line-height:15px;transform:scaleX(0.8680);color:#000">50</div>
<div class="t" style="left:817.30px;top:656.30px;font-size:15px;line-height:15px;transform:scaleX(0.8680);color:#000">100</div>
<div class="t" style="left:1021.63px;top:656.30px;font-size:15px;line-height:15px;transform:scaleX(0.8680);color:#000">0</div>
<div class="t" style="left:1075.62px;top:656.30px;font-size:15px;line-height:15px;transform:scaleX(0.8680);color:#000">50</div>
<div class="t" style="left:1125.30px;top:656.30px;font-size:15px;line-height:15px;transform:scaleX(0.8680);color:#000">100</div>
<div class="t" style="left:908.20px;top:634.53px;font-size:14.5px;line-height:14.5px;transform:scaleX(0.8958);color:#000">Turbulence</div>
<div class="t" style="left:906.84px;top:665.23px;font-size:14.5px;line-height:14.5px;transform:scaleX(0.8627);color:#000">Laminar</div>
<div class="t" style="left:1223.77px;top:640.06px;font-size:16px;line-height:16px;transform:scaleX(1.0304);color:#000">(%)</div>
</div>
</body></html>
